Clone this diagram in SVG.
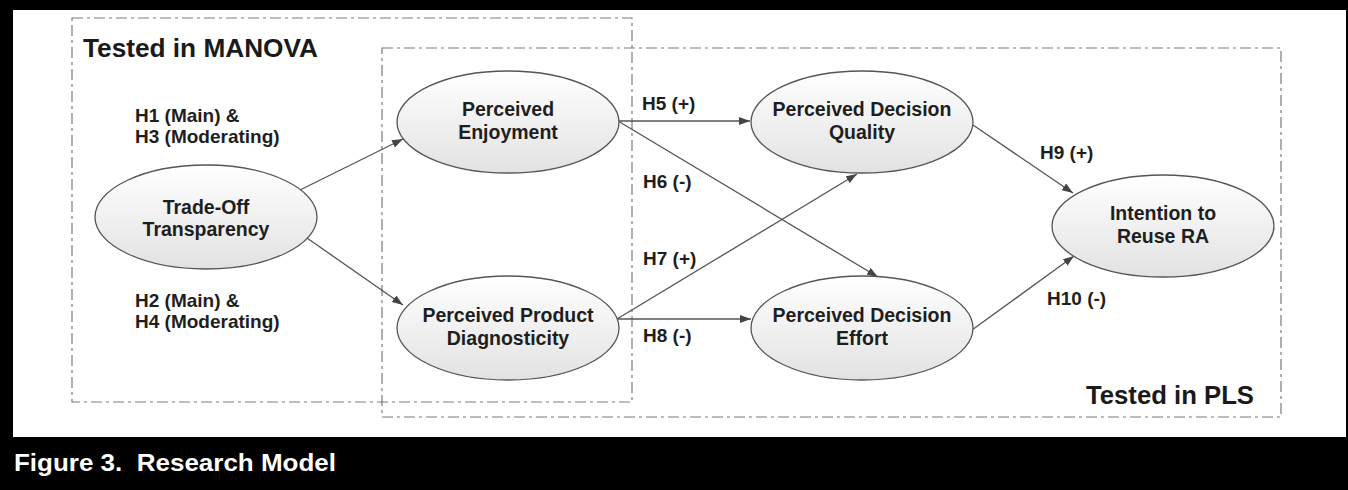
<svg xmlns="http://www.w3.org/2000/svg" width="1348" height="490" viewBox="0 0 1348 490">
<style>
.frame{fill:none;stroke:#7a7a7a;stroke-width:1.2;stroke-dasharray:11 4 3 4}
.node ellipse{fill:url(#g);stroke:#555;stroke-width:1.3}
.nt{font-family:"Liberation Sans",Arial,sans-serif;font-weight:bold;font-size:19.5px;fill:#1e1e1e;text-anchor:middle}
.lbl{font-family:"Liberation Sans",Arial,sans-serif;font-weight:bold;font-size:19px;fill:#1e1e1e}
.title{font-family:"Liberation Sans",Arial,sans-serif;font-weight:bold;font-size:25px;fill:#1a1a1a}
.edge{stroke:#555;stroke-width:1.3;fill:none;marker-end:url(#arr)}
</style>
<defs>
<linearGradient id="g" x1="0" y1="0" x2="0" y2="1">
<stop offset="0" stop-color="#ffffff"/>
<stop offset="1" stop-color="#e2e2e2"/>
</linearGradient>
<marker id="arr" markerUnits="userSpaceOnUse" markerWidth="11" markerHeight="8" refX="11" refY="4" orient="auto">
<path d="M0,0 L11,4 L0,8 z" fill="#444"/>
</marker>
</defs>
<rect x="0" y="0" width="1348" height="490" fill="#000"/>
<rect x="13" y="10" width="1333" height="427" fill="#fff"/>
<g id="frames">
<rect class="frame" x="72" y="18" width="560" height="384"/>
<rect class="frame" x="382" y="48" width="899" height="369"/>
<text class="title" x="83" y="57" textLength="235" lengthAdjust="spacingAndGlyphs">Tested in MANOVA</text>
<text class="title" x="1086" y="404" textLength="168" lengthAdjust="spacingAndGlyphs">Tested in PLS</text>
</g>
<g id="connectors">
<line class="edge" x1="300" y1="190" x2="403" y2="139"/>
<line class="edge" x1="307" y1="238" x2="403" y2="305"/>
<line class="edge" x1="618" y1="121" x2="750" y2="121"/>
<line class="edge" x1="618" y1="121" x2="878" y2="277"/>
<line class="edge" x1="617" y1="319" x2="857" y2="174"/>
<line class="edge" x1="617" y1="319" x2="751" y2="319"/>
<line class="edge" x1="973" y1="125" x2="1073" y2="193"/>
<line class="edge" x1="972" y1="330" x2="1074" y2="256"/>
</g>
<g id="labels">
<text class="lbl" x="135" y="122">H1 (Main) &amp;</text>
<text class="lbl" x="135" y="143">H3 (Moderating)</text>
<text class="lbl" x="135" y="307">H2 (Main) &amp;</text>
<text class="lbl" x="135" y="328">H4 (Moderating)</text>
<text class="lbl" x="642" y="110">H5 (+)</text>
<text class="lbl" x="643" y="188">H6 (-)</text>
<text class="lbl" x="643" y="265">H7 (+)</text>
<text class="lbl" x="643" y="342">H8 (-)</text>
<text class="lbl" x="1040" y="159">H9 (+)</text>
<text class="lbl" x="1047" y="305">H10 (-)</text>
</g>
<g id="n-tradeoff" class="node">
<ellipse cx="206" cy="217" rx="111" ry="52"/>
<text class="nt" x="206" y="214">Trade-Off</text>
<text class="nt" x="206" y="236">Transparency</text>
</g>
<g id="n-enjoyment" class="node">
<ellipse cx="508" cy="122" rx="111" ry="51"/>
<text class="nt" x="508" y="116">Perceived</text>
<text class="nt" x="508" y="139">Enjoyment</text>
</g>
<g id="n-diagnosticity" class="node">
<ellipse cx="508" cy="328" rx="111" ry="52"/>
<text class="nt" x="508" y="322">Perceived Product</text>
<text class="nt" x="508" y="345">Diagnosticity</text>
</g>
<g id="n-quality" class="node">
<ellipse cx="862" cy="122" rx="111" ry="51"/>
<text class="nt" x="862" y="116">Perceived Decision</text>
<text class="nt" x="862" y="139">Quality</text>
</g>
<g id="n-effort" class="node">
<ellipse cx="862" cy="328" rx="111" ry="52"/>
<text class="nt" x="862" y="322">Perceived Decision</text>
<text class="nt" x="862" y="345">Effort</text>
</g>
<g id="n-reuse" class="node">
<ellipse cx="1163" cy="226" rx="111" ry="51"/>
<text class="nt" x="1163" y="220">Intention to</text>
<text class="nt" x="1163" y="243">Reuse RA</text>
</g>
<text x="14" y="471" font-family="'Liberation Sans',Arial,sans-serif" font-weight="bold" font-size="24" fill="#fff" textLength="322" lengthAdjust="spacingAndGlyphs" xml:space="preserve">Figure 3.  Research Model</text>
</svg>
